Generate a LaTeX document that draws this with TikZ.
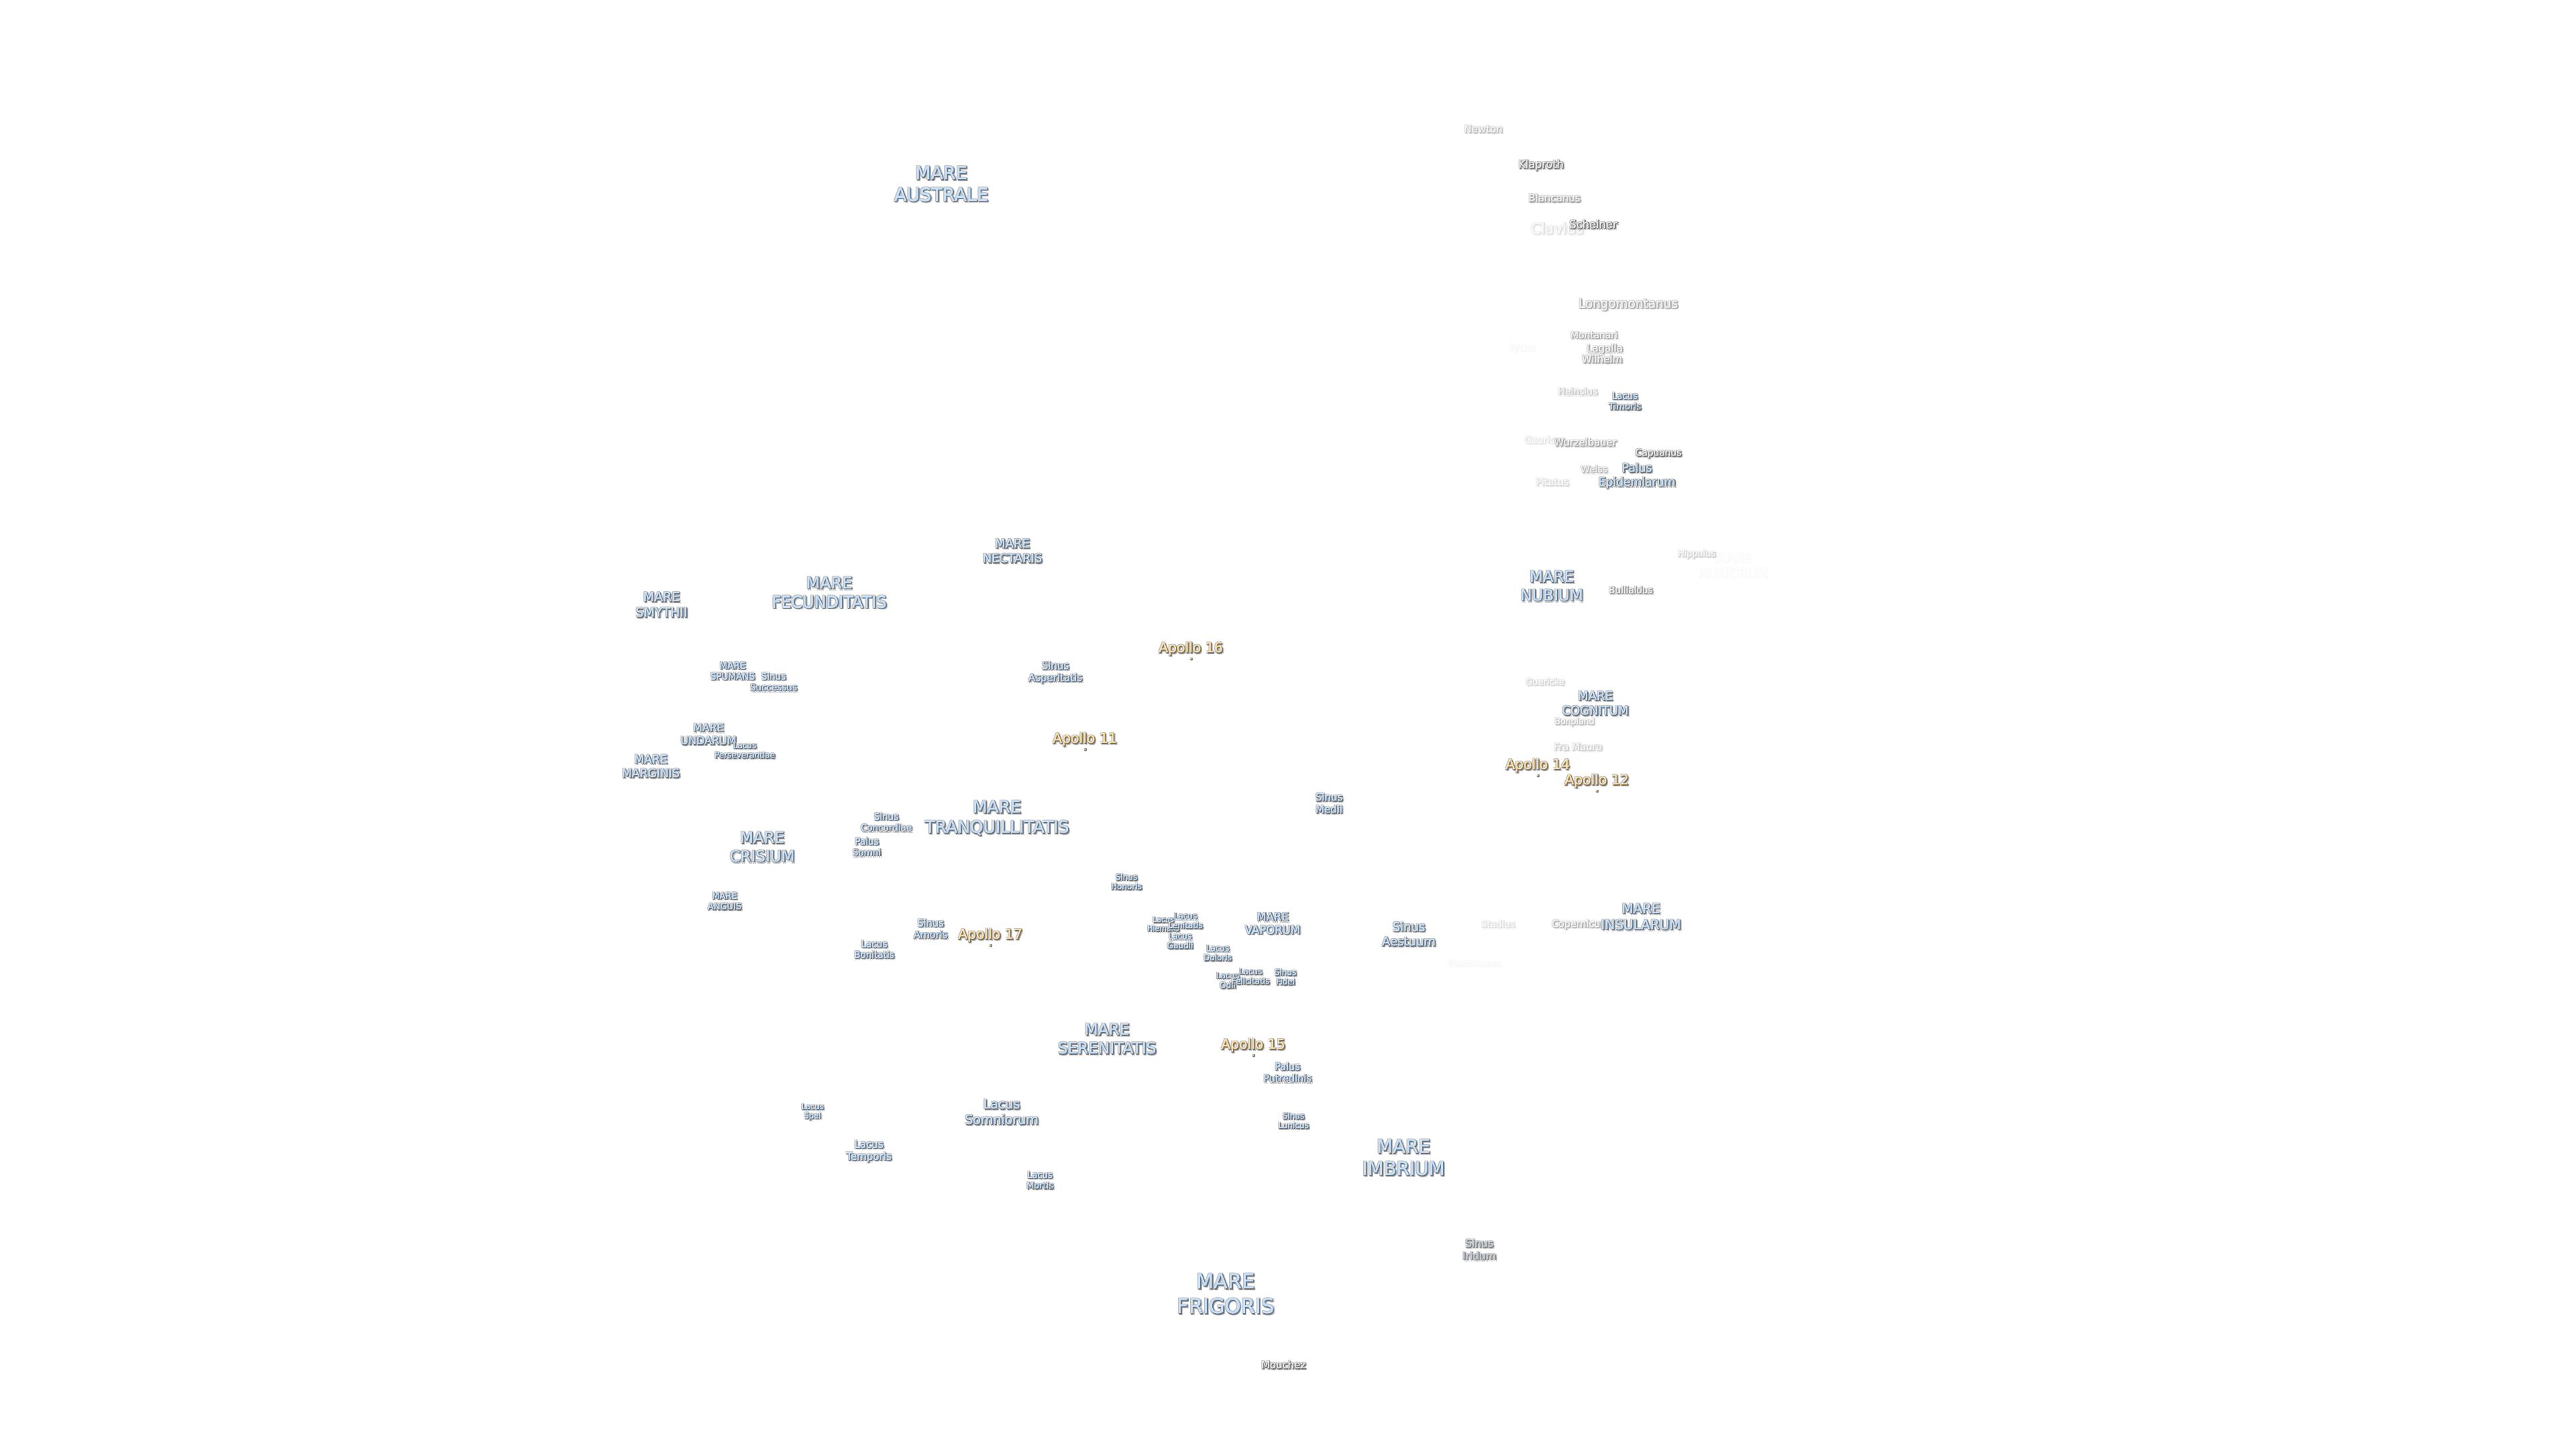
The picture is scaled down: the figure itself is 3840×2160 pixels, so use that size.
\documentclass[tikz,border=0pt]{standalone}
\usepackage{fontspec}
\setmainfont{DejaVu Sans}
\definecolor{mareblue}{HTML}{C2E2FF}
\definecolor{apollotan}{HTML}{FFE0A0}
\definecolor{craterfill}{HTML}{E8E8E8}
\tikzset{
  lb/.style={inner sep=0pt,outer sep=0pt,align=center},
  spotdot/.style={circle,inner sep=0pt,minimum size=4.8pt,fill=#1}
}
\newcommand\lf[1]{\fontsize{#1pt}{\dimexpr#1pt*120/100\relax}\selectfont}
% name, x, y, size, fill colour, opacity, text
\newcommand\lab[7]{%
  \begin{scope}[transparency group,opacity=#6]
    \node[lb,font=\lf{#4},text=black!26] at (#2-1,#3-1) {#7};
    \node[lb,font=\lf{#4},text=black!26] at (#2+3,#3+3) {#7};
    \node[lb,font=\lf{#4},text=black!26] at (#2-1,#3+1.5) {#7};
    \node[lb,font=\lf{#4},text=black!26] at (#2+1.5,#3-1) {#7};
    \node[lb,font=\lf{#4},text=black!26] at (#2+3,#3+0.5) {#7};
    \node[lb,font=\lf{#4},text=black!26] at (#2+0.5,#3+3) {#7};
    \node[lb,font=\lf{#4},text=black!55] at (#2+1.8,#3+1.8) {#7};
    \node[lb,font=\lf{#4},text=black!55] at (#2+0.9,#3+1.8) {#7};
    \node[lb,font=\lf{#4},text=black!55] at (#2+1.8,#3+0.9) {#7};
    \node[lb,font=\lf{#4},text=#5] at (#2+0.3,#3+0.3) {#7};
    \node[lb,font=\lf{#4},text=#5] (#1) at (#2,#3) {#7};
  \end{scope}}
\newcommand\mare[5]{\lab{#1}{#2}{#3}{#4}{mareblue}{1}{#5}}
\newcommand\crater[6]{\lab{#1}{#2}{#3}{#4}{craterfill}{#5}{#6}}
\newcommand\apollo[4]{%
  \lab{#1}{#2}{#3}{20.4}{apollotan}{1}{#4}%
  \node[spotdot=black!50] at (#2+1,#3+15.2) {};
  \node[spotdot=apollotan,minimum size=2.8pt] (#1dot) at (#2,#3+14.5) {};}
\begin{document}
\begin{tikzpicture}[x=1pt,y=-1pt]
\useasboundingbox[fill=white] (0,0) rectangle (3840,2160);
% faint labels first
\crater{tycho}{2268}{519}{13.8}{0.05}{Tycho}
\crater{erato}{2197}{1435}{12}{0.05}{Eratosthenes}
\crater{humorum}{2583}{842}{19}{0.035}{MARE\\HUMORUM}
\crater{clavius}{2321}{340}{21.8}{0.22}{Clavius}
\crater{gauricus}{2303}{655}{13.8}{0.2}{Gauricus}
\crater{newton}{2211}{192}{15}{0.42}{Newton}
\crater{klaproth}{2297}{246}{16}{0.92}{Klaproth}
\crater{blancanus}{2317}{295}{15}{0.62}{Blancanus}
\crater{scheiner}{2375}{334}{16.3}{1}{Scheiner}
\crater{longo}{2427}{454}{18.4}{0.62}{Longomontanus}
\crater{montanari}{2376}{499}{13.8}{0.58}{Montanari}
\crater{lagalla}{2392}{520}{15}{0.62}{Lagalla}
\crater{wilhelm}{2388}{535}{15}{0.62}{Wilhelm}
\crater{heinsius}{2352}{583}{13.8}{0.38}{Heinsius}
\crater{wurzel}{2363}{659}{14.7}{0.58}{Wurzelbauer}
\crater{capuanus}{2472}{676}{13.8}{0.95}{Capuanus}
\crater{weiss}{2376}{699}{13.8}{0.52}{Weiss}
\crater{pitatus}{2314}{718}{14.4}{0.25}{Pitatus}
\crater{hippalus}{2529}{826}{13}{0.3}{Hippalus}
\crater{bullialdus}{2431}{879}{13.5}{0.72}{Bullialdus}
\crater{guericke}{2303}{1016}{13}{0.3}{Guericke}
\crater{bonpland}{2347}{1076}{12.5}{0.42}{Bonpland}
\crater{framauro}{2352}{1113}{14.5}{0.35}{Fra Mauro}
\crater{stadius}{2233}{1377}{13.5}{0.22}{Stadius}
\crater{copernicus}{2353}{1378}{14.3}{0.55}{Copernicus}
\crater{mouchez}{1913}{2034}{14.9}{0.95}{Mouchez}
% maria
\mare{australe}{1403}{274}{27}{MARE\\AUSTRALE}
\mare{frigoris}{1827}{1928}{30.5}{MARE\\FRIGORIS}
\mare{imbrium}{2092}{1725}{27.8}{MARE\\IMBRIUM}
\mare{serenitatis}{1650}{1548}{23.2}{MARE\\SERENITATIS}
\mare{tranq}{1486}{1219}{25}{MARE\\TRANQUILLITATIS}
\mare{crisium}{1136}{1262}{23}{MARE\\CRISIUM}
\mare{fecund}{1236}{883}{24}{MARE\\FECUNDITATIS}
\mare{nectaris}{1509}{821}{18}{MARE\\NECTARIS}
\mare{smythii}{986}{901}{19}{MARE\\SMYTHII}
\mare{nubium}{2313}{873}{23}{MARE\\NUBIUM}
\mare{cognitum}{2378}{1048}{18}{MARE\\COGNITUM}
\mare{insularum}{2446}{1366}{20}{MARE\\INSULARUM}
\mare{vaporum}{1897}{1376}{16.5}{MARE\\VAPORUM}
\mare{spumans}{1092}{1000}{13.5}{MARE\\SPUMANS}
\mare{undarum}{1056}{1094}{16}{MARE\\UNDARUM}
\mare{marginis}{970}{1142}{17.2}{MARE\\MARGINIS}
\mare{anguis}{1080}{1343}{13}{MARE\\ANGUIS}
% sinus, lacus, palus
\mare{honoris}{1679}{1314}{12}{Sinus\\Honoris}
\mare{hiemalis}{1734}{1377}{11}{Lacus\\Hiemalis}
\mare{lenitatis}{1767}{1372}{12}{Lacus\\Lenitatis}
\mare{gaudii}{1759}{1402}{12}{Lacus\\Gaudii}
\mare{doloris}{1815}{1420}{12}{Lacus\\Doloris}
\mare{odii}{1830}{1461}{12}{Lacus\\Odii}
\mare{felicitatis}{1864}{1455}{12}{Lacus\\Felicitatis}
\mare{fidei}{1916}{1456}{12}{Sinus\\Fidei}
\mare{aestuum}{2100}{1392}{18}{Sinus\\Aestuum}
\mare{putredinis}{1919}{1598}{14.4}{Palus\\Putredinis}
\lab{iridum}{2205}{1862}{15.5}{mareblue!70!black!60}{0.85}{Sinus\\Iridum}
\mare{lunicus}{1928}{1670}{12}{Sinus\\Lunicus}
\mare{somniorum}{1493}{1657}{19}{Lacus\\Somniorum}
\mare{temporis}{1295}{1716}{15}{Lacus\\Temporis}
\mare{spei}{1211}{1657}{11.5}{Lacus\\Spei}
\mare{mortis}{1550}{1759}{13}{Lacus\\Mortis}
\mare{bonitatis}{1303}{1415}{13.5}{Lacus\\Bonitatis}
\mare{amoris}{1387}{1384}{14.5}{Sinus\\Amoris}
\mare{concordiae}{1321}{1225}{13.5}{Sinus\\Concordiae}
\mare{somni}{1292}{1262}{13.5}{Palus\\Somni}
\mare{medii}{1981}{1197}{15}{Sinus\\Medii}
\mare{asperitatis}{1573}{1002}{15}{Sinus\\Asperitatis}
\mare{successus}{1153}{1016}{13.5}{Sinus\\Successus}
\mare{persev}{1110}{1118}{12}{Lacus\\Perseverantiae}
\mare{timoris}{2422}{598}{13.2}{Lacus\\Timoris}
\mare{epidemiarum}{2440}{709}{17.2}{Palus\\Epidemiarum}
% landing sites
\apollo{aone}{1617}{1102}{Apollo 11}
\apollo{atwo}{2380}{1164}{Apollo 12}
\apollo{afour}{2292}{1141}{Apollo 14}
\apollo{afive}{1868}{1558}{Apollo 15}
\apollo{asix}{1775}{967}{Apollo 16}
\apollo{aseven}{1476}{1394}{Apollo 17}
\end{tikzpicture}
\end{document}
